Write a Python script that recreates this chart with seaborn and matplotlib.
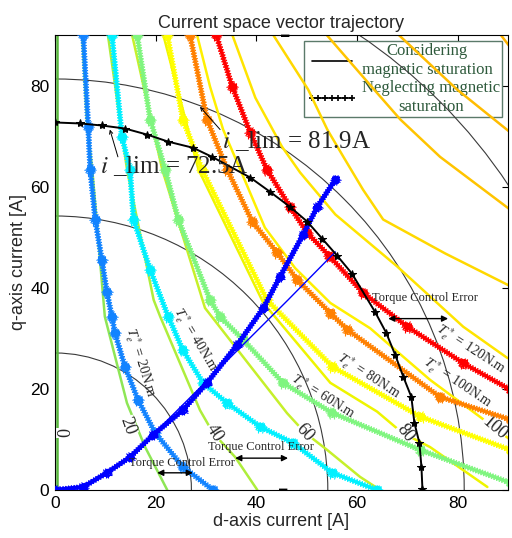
import matplotlib
matplotlib.use("Agg")
import matplotlib.pyplot as plt
import matplotlib.patheffects as pe
from matplotlib.lines import Line2D
from matplotlib.patches import Circle
import seaborn as sns

# ---------------- data ----------------
# Neglecting magnetic saturation: reference torque contours (starred)
s20_id = [5.6, 6.6, 7.0, 8.0, 9.3, 10.3, 11.3, 11.9, 13.9, 16.5, 19.9, 25.4, 31.4]
s20_iq = [90.1, 71.9, 63.4, 53.5, 45.5, 39.2, 34.3, 31.1, 24.4, 17.8, 11.3, 4.6, 0.0]
s40_id = [11.3, 13.3, 14.9, 15.6, 18.9, 22.5, 25.4, 29.4, 34.2, 40.8, 47.3, 55.1, 64.0]
s40_iq = [90.1, 69.9, 63.4, 53.5, 43.6, 34.3, 27.7, 21.2, 17.2, 12.5, 9.3, 3.4, 0.0]
s60_id = [16.3, 18.9, 21.9, 24.5, 30.8, 32.8, 37.4, 45.3, 55.0, 72.6, 90.5]
s60_iq = [90.1, 73.3, 63.4, 53.5, 37.6, 34.3, 29.7, 21.2, 15.3, 7.9, 1.4]
s80_id = [22.3, 25.4, 29.2, 42.1, 55.1, 72.6, 90.5]
s80_iq = [90.1, 73.3, 63.4, 37.6, 24.4, 14.5, 7.9]
s100_id = [26.8, 30.2, 34.2, 39.2, 44.1, 48.1, 54.7, 58.1, 76.5, 90.5]
s100_iq = [90.1, 73.3, 63.4, 53.1, 47.0, 41.6, 35.0, 31.7, 18.4, 13.9]
s120_id = [32.0, 35.2, 38.8, 42.1, 46.7, 50.1, 54.5, 61.2, 70.0, 81.1, 90.5]
s120_iq = [90.1, 79.8, 70.7, 63.4, 56.0, 50.9, 46.3, 39.0, 32.3, 25.1, 19.8]

# Considering magnetic saturation: torque contours (plain)
p0_id = [0.3, 0.3]
p0_iq = [0.0, 90.0]
p20_id = [5.4, 6.4, 7.4, 9.9, 14.3, 17.9, 22.3]
p20_iq = [90.1, 71.9, 63.4, 34.3, 17.2, 8.5, 0.0]
p40_id = [10.5, 14.3, 19.6, 20.9, 28.8, 31.4, 35.8, 40.2]
p40_iq = [90.1, 63.4, 37.6, 34.3, 15.8, 11.3, 6.5, 0.0]
p60_id = [15.3, 21.3, 29.8, 37.4, 46.1, 49.7, 54.1, 60.6, 64.6]
p60_iq = [90.1, 63.4, 36.0, 26.3, 15.2, 11.3, 7.9, 2.6, 0.0]
p80_id = [21.5, 28.5, 41.4, 54.7, 64.0, 69.0, 74.5, 85.9]
p80_iq = [90.1, 63.4, 37.0, 21.2, 15.5, 11.3, 8.5, 0.6]
p100_id = [28.2, 30.8, 33.4, 37.4, 41.7, 47.7, 54.7, 62.6, 74.5, 87.1, 90.5]
p100_iq = [90.1, 79.8, 71.3, 62.0, 51.9, 43.9, 37.0, 32.0, 21.8, 12.5, 9.9]
p120_id = [35.2, 39.8, 45.1, 48.7, 55.7, 68.0, 81.1, 89.9]
p120_iq = [90.1, 77.6, 67.9, 62.8, 54.5, 44.2, 32.3, 26.1]
p140_id = [43.3, 50.3, 54.1, 57.3, 61.2, 65.2, 77.5, 90.1]
p140_iq = [90.1, 79.2, 71.3, 65.9, 59.4, 53.5, 46.8, 40.5]
p160_id = [53.9, 63.4, 68.6, 76.5, 84.5, 90.5]
p160_iq = [90.1, 79.2, 73.3, 65.9, 59.9, 55.4]
p180_id = [68.2, 79.9, 90.5]
p180_iq = [90.1, 79.2, 70.7]
p200_id = [88.5, 90.5]
p200_iq = [90.1, 87.5]

# MTPA trajectories
mtpa_neg_id = [0.0, 5.6, 10.3, 14.9, 19.5, 25.4, 30.2, 36.2, 41.4, 44.7, 49.3, 52.1, 55.7]
mtpa_neg_iq = [0.0, 0.6, 3.4, 6.5, 10.9, 15.8, 21.2, 28.7, 36.0, 42.2, 50.5, 56.0, 61.4]
mtpa_con_id = [0.0, 5.6, 10.3, 14.9, 19.0, 46.3, 55.7]
mtpa_con_iq = [0.0, 0.6, 3.4, 6.5, 10.5, 37.6, 47.1]

# Current-limit trajectory (i_lim = 72.5 A)
lim_id = [0.0, 5.0, 9.3, 13.9, 18.3, 22.5, 27.4, 31.2, 38.8, 42.7, 46.7, 50.1, 53.1,
          56.1, 59.0, 63.6, 65.8, 67.6, 69.2, 70.8, 71.4, 72.4, 72.8, 73.0]
lim_iq = [72.7, 72.5, 72.1, 71.5, 70.3, 68.9, 67.7, 65.9, 61.8, 59.0, 56.0, 53.1, 49.7,
          46.3, 42.8, 35.2, 31.1, 26.7, 22.4, 18.4, 13.3, 9.3, 4.6, 0.2]

# Constant current circles
circle_r = [27.1, 54.2, 81.3, 108.4]

# Labels
contour_labels = ["0", "20", "40", "60", "80", "100"]
contour_lab_x = [1.0, 14.4, 31.6, 49.6, 69.6, 87.3]
contour_lab_y = [11.3, 12.6, 11.3, 11.3, 11.3, 12.3]
contour_lab_rot = [-90, -70, -57, -48, -52, -40]

torque_levels = [20, 40, 60, 80, 100, 120]
torque_lab_x = [16.8, 27.8, 53.1, 62.2, 79.9, 82.6]
torque_lab_y = [25.1, 29.7, 18.4, 22.4, 21.2, 27.8]
torque_lab_rot = [-73, -59, -32, -33, -34, -33]

err_x0 = [20.3, 35.8, 66.2]
err_x1 = [27.4, 46.3, 78.1]
err_y = [3.4, 6.3, 33.9]
err_tx = [25.2, 41.0, 73.4]
err_ty = [5.4, 8.5, 38.0]

# ---------------- styling ----------------
sns.set_theme(style="white")
plt.rcParams["font.family"] = ["Liberation Sans", "DejaVu Sans"]
plt.rcParams["mathtext.fontset"] = "stix"

fig = plt.figure(figsize=(5.12, 5.38), dpi=100)
ax = fig.add_axes([55 / 512, 48 / 538, 453 / 512, 455 / 538])

for r in circle_r:
    ax.add_patch(Circle((0, 0), r, fill=False, ec="#3a3a3a", lw=0.8, zorder=1.5))

plain = [
    (p0_id, p0_iq, "#58b83c"),
    (p20_id, p20_iq, "#8ee656"),
    (p40_id, p40_iq, "#aeee3c"),
    (p60_id, p60_iq, "#c6f02a"),
    (p80_id, p80_iq, "#eef500"),
    (p100_id, p100_iq, "#fff000"),
    (p120_id, p120_iq, "#ffe400"),
    (p140_id, p140_iq, "#ffd800"),
    (p160_id, p160_iq, "#ffc400"),
    (p180_id, p180_iq, "#ffbc00"),
    (p200_id, p200_iq, "#ffb400"),
]
for xs, ys, c in plain:
    sns.lineplot(x=xs, y=ys, sort=False, estimator=None, color=c, lw=1.8,
                 ax=ax, zorder=2)

fuzz = [pe.TickedStroke(spacing=2.0, angle=a, length=1.0, linewidth=0.8)
        for a in (60, -60, 120, -120)] + [pe.Normal()]

starred = [
    (s20_id, s20_iq, "#1283ff"),
    (s40_id, s40_iq, "#00f0ff"),
    (s60_id, s60_iq, "#7ff57f"),
    (s80_id, s80_iq, "#ffff00"),
    (s100_id, s100_iq, "#ff8000"),
    (s120_id, s120_iq, "#ff0000"),
]
for xs, ys, c in starred:
    sns.lineplot(x=xs, y=ys, sort=False, estimator=None, color=c, lw=2.0,
                 marker="*", markersize=6.5, markeredgecolor=c, markerfacecolor=c,
                 path_effects=fuzz, ax=ax, zorder=3)

sns.lineplot(x=mtpa_con_id, y=mtpa_con_iq, sort=False, estimator=None,
             color="#0000ff", lw=1.0, ax=ax, zorder=3.5)
sns.lineplot(x=mtpa_neg_id, y=mtpa_neg_iq, sort=False, estimator=None,
             color="#0000ff", lw=3.0, marker="*", markersize=6,
             markeredgecolor="#0000ff", markerfacecolor="#0000ff",
             path_effects=fuzz, ax=ax, zorder=3.6)

sns.lineplot(x=lim_id, y=lim_iq, sort=False, estimator=None, color="black",
             lw=1.4, marker="*", markersize=6, markeredgecolor="black",
             markerfacecolor="black", ax=ax, zorder=4)

serif = ["Liberation Serif", "DejaVu Serif"]

for t, x, y, rot in zip(contour_labels, contour_lab_x, contour_lab_y, contour_lab_rot):
    ax.text(x, y, t, family=serif, fontsize=13, rotation=rot, ha="center",
            va="center", rotation_mode="anchor", zorder=2.5,
            bbox=dict(fc="white", ec="none", pad=0.3))

for lev, x, y, rot in zip(torque_levels, torque_lab_x, torque_lab_y, torque_lab_rot):
    ax.text(x, y, r"$T_e^*$ = %dN.m" % lev, family=serif, fontsize=10,
            rotation=rot, ha="center", va="center", rotation_mode="anchor",
            zorder=6)

for x0, x1, y, tx, ty in zip(err_x0, err_x1, err_y, err_tx, err_ty):
    ax.annotate("", xy=(x1, y), xytext=(x0, y),
                arrowprops=dict(arrowstyle="<|-|>", color="black", lw=1.0,
                                mutation_scale=9, shrinkA=0, shrinkB=0),
                zorder=6)
    ax.text(tx, ty, "Torque Control Error", family=serif, fontsize=9,
            ha="center", va="center", zorder=6)

ax.text(8.9, 64.0, r"$i$ _lim = 72.5A", family=serif, fontsize=18,
        ha="left", va="center", zorder=6)
ax.annotate("", xy=(10.9, 71.3), xytext=(12.5, 65.9),
            arrowprops=dict(arrowstyle="->", color="black", lw=0.7,
                            mutation_scale=6, shrinkA=0, shrinkB=0), zorder=6)
ax.text(33.2, 69.1, r"$i$ _lim = 81.9A", family=serif, fontsize=18,
        ha="left", va="center", zorder=6)
ax.annotate("", xy=(28.8, 75.8), xytext=(32.8, 71.3),
            arrowprops=dict(arrowstyle="->", color="black", lw=0.7,
                            mutation_scale=6, shrinkA=0, shrinkB=0), zorder=6)

ax.text(45.7, 89.9, "\u25ac", fontsize=6, ha="center", va="center",
        color="black", zorder=6, clip_on=False)
ax.text(45.4, 0.1, "\u25ac", fontsize=6, ha="center", va="center",
        color="black", zorder=6, clip_on=False)

ax.set_xlim(0, 90)
ax.set_ylim(0, 90)
ax.set_xticks([0, 20, 40, 60, 80])
ax.set_yticks([0, 20, 40, 60, 80])
ax.tick_params(direction="in", length=4, width=0.8, top=True, right=True,
               labelsize=12.5, colors="black", pad=4)
for s in ax.spines.values():
    s.set_color("black")
    s.set_linewidth(0.8)
ax.set_xlabel("d-axis current [A]", fontsize=13, labelpad=2)
ax.set_ylabel("q-axis current [A]", fontsize=13, labelpad=2)
ax.set_title("Current space vector trajectory", fontsize=13, pad=5)

handles = [Line2D([], [], color="black", lw=1.2),
           Line2D([], [], color="black", lw=1.2, marker="+", markersize=5,
                  markeredgewidth=1.2)]
leg = ax.legend(handles, ["Considering\nmagnetic saturation",
                          "Neglecting magnetic\nsaturation"],
                loc="upper right", prop={"family": serif, "size": 12},
                numpoints=7, handlelength=3.0, handletextpad=0.3,
                labelspacing=0.15, borderpad=0.15, borderaxespad=0.35,
                frameon=True, fancybox=False, framealpha=1.0,
                edgecolor="#5b7a6a")
leg.get_frame().set_linewidth(1.0)
for t in leg.get_texts():
    t.set_color("#2e5a3c")
    t.set_multialignment("center")
leg.set_zorder(1)

fig.savefig("out.png", dpi=100)
